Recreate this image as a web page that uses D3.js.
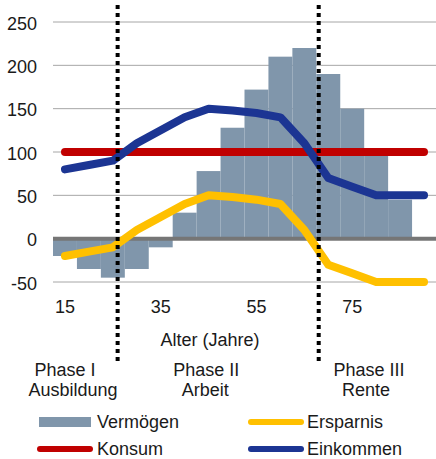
<!DOCTYPE html>
<html>
<head>
<meta charset="utf-8">
<script src="https://cdn.jsdelivr.net/npm/d3@7/dist/d3.min.js"></script>
<style>
  html, body { margin: 0; padding: 0; background: #fff; }
  svg text { font-family: "Liberation Sans", Arial, sans-serif; font-size: 18px; fill: #1a1a1a; }
</style>
</head>
<body>
<svg id="chart" width="436" height="459"></svg>
<script>
// Lebenszyklus: Einkommen, Konsum, Ersparnis und Vermögen nach Alter
const ages       = [15, 20, 25, 30, 35, 40, 45, 50, 55, 60, 65, 70, 75, 80, 85, 90];
const vermoegen  = [-20, -35, -45, -35, -10, 30, 78, 128, 172, 210, 220, 190, 150, 100, 45, 0];
const einkommen  = [80, 85, 90, 110, 125, 140, 150, 148, 145, 140, 110, 70, 60, 50, 50, 50];
const konsum     = [100, 100, 100, 100, 100, 100, 100, 100, 100, 100, 100, 100, 100, 100, 100, 100];
const ersparnis  = [-20, -15, -10, 10, 25, 40, 50, 48, 45, 40, 10, -30, -40, -50, -50, -50];
const yTicks     = [-50, 0, 50, 100, 150, 200, 250];
const xTicks     = [15, 35, 55, 75];
const phaseBreaks = [26, 68];
const phases = [
  { age: 15, lines: ["Phase I", "Ausbildung"], dx: [0, 8] },
  { age: 44.5, lines: ["Phase II", "Arbeit"], dx: [0, -1] },
  { age: 78.5, lines: ["Phase III", "Rente"], dx: [0, -3] }
];
const colors = { vermoegen: "#8096ab", konsum: "#c00000", ersparnis: "#ffc000", einkommen: "#1c3593" };

const svg = d3.select("#chart");
const x = d3.scaleLinear().domain([12.5, 92.5]).range([53, 436]);
const y = d3.scaleLinear().domain([-50, 250]).range([282, 22]);
const step = x(20) - x(15);

// horizontal gridlines
svg.append("g").selectAll("line").data(yTicks.filter(d => d !== 0)).join("line")
  .attr("x1", x(12.5)).attr("x2", x(92.5))
  .attr("y1", d => y(d)).attr("y2", d => y(d))
  .attr("stroke", "#a6a6a6").attr("stroke-width", 1);

// y-axis labels
svg.append("g").selectAll("text").data(yTicks).join("text")
  .attr("x", 37).attr("y", d => y(d) + 7.5)
  .attr("text-anchor", "end").text(d => d);

// Vermögen bars
svg.append("g").selectAll("rect").data(ages).join("rect")
  .attr("x", d => x(d) - step / 2)
  .attr("width", step)
  .attr("y", (d, i) => Math.min(y(vermoegen[i]), y(0)))
  .attr("height", (d, i) => Math.abs(y(vermoegen[i]) - y(0)))
  .attr("fill", colors.vermoegen);

// zero axis
svg.append("line")
  .attr("x1", x(12.5)).attr("x2", x(92.5))
  .attr("y1", y(0)).attr("y2", y(0))
  .attr("stroke", "#767676").attr("stroke-width", 4);

// lines
const line = d3.line().x(d => x(d[0])).y(d => y(d[1]));
function drawSeries(values, color) {
  svg.append("path")
    .datum(ages.map((a, i) => [a, values[i]]))
    .attr("d", line)
    .attr("fill", "none")
    .attr("stroke", color)
    .attr("stroke-width", 8)
    .attr("stroke-linecap", "round")
    .attr("stroke-linejoin", "round");
}
drawSeries(ersparnis, colors.ersparnis);
drawSeries(konsum, colors.konsum);
drawSeries(einkommen, colors.einkommen);

// x-axis labels
svg.append("g").selectAll("text").data(xTicks).join("text")
  .attr("x", d => x(d)).attr("y", 313)
  .attr("text-anchor", "middle").text(d => d);

svg.append("text").attr("x", 210).attr("y", 346)
  .attr("text-anchor", "middle").text("Alter (Jahre)");

// phase separators
svg.append("g").selectAll("line").data(phaseBreaks).join("line")
  .attr("x1", d => x(d)).attr("x2", d => x(d))
  .attr("y1", 5).attr("y2", 361)
  .attr("stroke", "#000").attr("stroke-width", 4)
  .attr("stroke-dasharray", "4,4");

// phase labels
phases.forEach(p => {
  p.lines.forEach((t, k) => {
    svg.append("text")
      .attr("x", x(p.age) + p.dx[k])
      .attr("y", 376 + k * 19.5)
      .attr("text-anchor", "middle")
      .text(t);
  });
});

// legend
const legend = svg.append("g");
legend.append("rect").attr("x", 39).attr("y", 417).attr("width", 52).attr("height", 10)
  .attr("fill", colors.vermoegen);
legend.append("text").attr("x", 97).attr("y", 428).text("Vermögen");

const legendLines = [
  { x: 251, y: 422, color: colors.ersparnis, label: "Ersparnis", tx: 307, ty: 428 },
  { x: 40, y: 449, color: colors.konsum, label: "Konsum", tx: 97, ty: 455 },
  { x: 251, y: 449, color: colors.einkommen, label: "Einkommen", tx: 307, ty: 455 }
];
legendLines.forEach(l => {
  legend.append("line").attr("x1", l.x).attr("x2", l.x + 50)
    .attr("y1", l.y).attr("y2", l.y)
    .attr("stroke", l.color).attr("stroke-width", 6)
    .attr("stroke-linecap", "round");
  legend.append("text").attr("x", l.tx).attr("y", l.ty).text(l.label);
});
</script>
</body>
</html>
